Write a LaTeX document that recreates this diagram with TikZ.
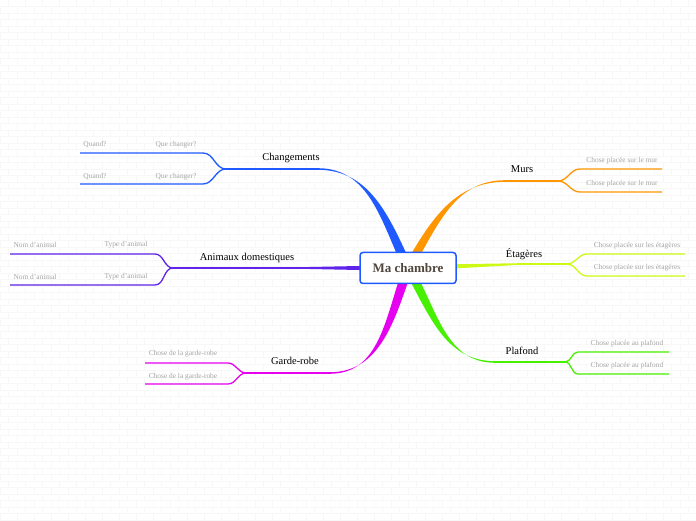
\documentclass[tikz,border=0pt]{standalone}
\usepackage{fontspec}
\setmainfont{Liberation Serif}

\definecolor{chgblue}{RGB}{30,90,255}
\definecolor{petpurple}{RGB}{95,35,235}
\definecolor{robemag}{RGB}{230,0,240}
\definecolor{murorange}{RGB}{255,150,0}
\definecolor{etglime}{RGB}{205,250,20}
\definecolor{plfgreen}{RGB}{70,240,0}
\definecolor{rootbrown}{RGB}{80,70,60}
\definecolor{leafgray}{RGB}{165,165,165}

\begin{document}
\begin{tikzpicture}[x=1pt,y=1pt,
  brick/.style={draw=black!3,line width=0.4pt},
  root/.style={draw=chgblue,line width=1.5pt,rounded corners=3pt,fill=white,
    minimum width=96pt,minimum height=31pt,text=rootbrown,
    font=\fontsize{13}{15}\selectfont\bfseries},
  topic/.style={font=\fontsize{10.5}{12}\selectfont},
  leaf/.style={font=\fontsize{7.4}{9}\selectfont,text=leafgray},
  limb/.style={line width=1.6pt},
  twig/.style={line width=1.3pt}]

\useasboundingbox (0,0) rectangle (696,520);
\fill[white] (0,0) rectangle (696,520);

% brick wall
\foreach \r in {0,...,79}{
  \draw[brick] (0,\r*6.5) -- (696,\r*6.5);
  \pgfmathsetmacro\off{mod(\r,2)*8.5}
  \foreach \c in {0,...,40} \draw[brick] (\c*17+\off,\r*6.5) -- ++(0,6.5);
}

\coordinate (c) at (408,252);

% branch points
\coordinate (chg) at (318,351);  \coordinate (chgsplit) at (226,351);
\coordinate (pet) at (300,252);  \coordinate (petsplit) at (173,252);
\coordinate (robe) at (330,147); \coordinate (robesplit) at (246,147);
\coordinate (mur) at (505,339);  \coordinate (mursplit) at (558,339);
\coordinate (etg) at (520,256);  \coordinate (etgsplit) at (567,256);
\coordinate (plf) at (495,158);  \coordinate (plfsplit) at (565,158);

% twig ends
\coordinate (chga) at (203,367); \coordinate (chgaend) at (80,367);
\coordinate (chgb) at (203,336); \coordinate (chgbend) at (80,336);
\coordinate (peta) at (155,266); \coordinate (petaend) at (10,266);
\coordinate (petb) at (155,235); \coordinate (petbend) at (10,235);
\coordinate (robea) at (228,157); \coordinate (robeaend) at (145,157);
\coordinate (robeb) at (228,136); \coordinate (robebend) at (145,136);
\coordinate (mura) at (580,351); \coordinate (muraend) at (662,351);
\coordinate (murb) at (580,328); \coordinate (murbend) at (662,328);
\coordinate (etga) at (587,266); \coordinate (etgaend) at (685,266);
\coordinate (etgb) at (587,244); \coordinate (etgbend) at (685,244);
\coordinate (plfa) at (578,168); \coordinate (plfaend) at (669,168);
\coordinate (plfb) at (578,146); \coordinate (plfbend) at (669,146);

% Changements
\fill[chgblue] ([xshift=-5pt]c) to[out=115,in=0] ([yshift=0.8pt]chg)
  -- ([yshift=-0.8pt]chg) to[out=0,in=115] ([xshift=5pt]c) -- cycle;
\draw[chgblue,limb] (chg) -- (chgsplit);
\draw[chgblue,twig] (chgsplit) to[out=180,in=0] (chga) -- (chgaend);
\draw[chgblue,twig] (chgsplit) to[out=180,in=0] (chgb) -- (chgbend);

% Animaux domestiques
\fill[petpurple] ([yshift=-3pt]c) -- ([yshift=-0.8pt]pet)
  -- ([yshift=0.8pt]pet) -- ([yshift=3pt]c) -- cycle;
\draw[petpurple,limb] (pet) -- (petsplit);
\draw[petpurple,twig] (petsplit) to[out=180,in=0] (peta) -- (petaend);
\draw[petpurple,twig] (petsplit) to[out=180,in=0] (petb) -- (petbend);

% Garde-robe
\fill[robemag] ([xshift=-5pt]c) to[out=250,in=0] ([yshift=-0.8pt]robe)
  -- ([yshift=0.8pt]robe) to[out=0,in=250] ([xshift=5pt]c) -- cycle;
\draw[robemag,limb] (robe) -- (robesplit);
\draw[robemag,twig] (robesplit) to[out=180,in=0] (robea) -- (robeaend);
\draw[robemag,twig] (robesplit) to[out=180,in=0] (robeb) -- (robebend);

% Murs
\fill[murorange] ([xshift=-5pt]c) to[out=60,in=180] ([yshift=-0.8pt]mur)
  -- ([yshift=0.8pt]mur) to[out=180,in=60] ([xshift=5pt]c) -- cycle;
\draw[murorange,limb] (mur) -- (mursplit);
\draw[murorange,twig] (mursplit) to[out=0,in=180] (mura) -- (muraend);
\draw[murorange,twig] (mursplit) to[out=0,in=180] (murb) -- (murbend);

% Etageres
\fill[etglime] ([yshift=-3pt]c) -- ([yshift=-0.8pt]etg)
  -- ([yshift=0.8pt]etg) -- ([yshift=3pt]c) -- cycle;
\draw[etglime,limb] (etg) -- (etgsplit);
\draw[etglime,twig] (etgsplit) to[out=0,in=180] (etga) -- (etgaend);
\draw[etglime,twig] (etgsplit) to[out=0,in=180] (etgb) -- (etgbend);

% Plafond
\fill[plfgreen] ([xshift=-5pt]c) to[out=300,in=180] ([yshift=0.8pt]plf)
  -- ([yshift=-0.8pt]plf) to[out=180,in=300] ([xshift=5pt]c) -- cycle;
\draw[plfgreen,limb] (plf) -- (plfsplit);
\draw[plfgreen,twig] (plfsplit) to[out=0,in=180] (plfa) -- (plfaend);
\draw[plfgreen,twig] (plfsplit) to[out=0,in=180] (plfb) -- (plfbend);

\node[root] (root) at (c) {Ma chambre};

% labels
\node[topic] (changements) at (291,362) {Changements};
\node[leaf] (quand1) at (95,375) {Quand?};
\node[leaf] (quoi1) at (176,375) {Que changer?};
\node[leaf] (quand2) at (95,343) {Quand?};
\node[leaf] (quoi2) at (176,343) {Que changer?};

\node[topic] (animaux) at (247,262) {Animaux domestiques};
\node[leaf] (nom1) at (35,275) {Nom d'animal};
\node[leaf] (type1) at (126,275) {Type d'animal};
\node[leaf] (nom2) at (35,243) {Nom d'animal};
\node[leaf] (type2) at (126,243) {Type d'animal};

\node[topic] (garderobe) at (295,159) {Garde-robe};
\node[leaf] (chose1) at (183,166) {Chose de la garde-robe};
\node[leaf] (chose2) at (183,143) {Chose de la garde-robe};

\node[topic] (murs) at (522,351) {Murs};
\node[leaf] (surmur1) at (622,359) {Chose placée sur le mur};
\node[leaf] (surmur2) at (622,336) {Chose placée sur le mur};

\node[topic] (etageres) at (524,266) {Étagères};
\node[leaf] (suretg1) at (637,274) {Chose placée sur les étagères};
\node[leaf] (suretg2) at (637,252) {Chose placée sur les étagères};

\node[topic] (plafond) at (522,169) {Plafond};
\node[leaf] (auplf1) at (627,176) {Chose placée au plafond};
\node[leaf] (auplf2) at (627,154) {Chose placée au plafond};

\end{tikzpicture}
\end{document}
